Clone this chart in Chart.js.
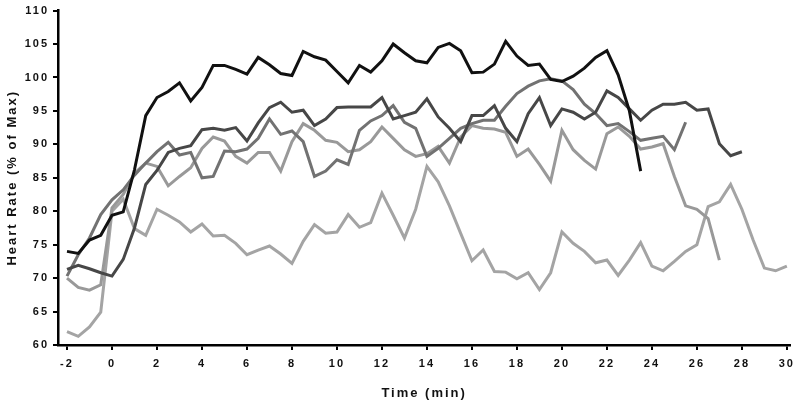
<!DOCTYPE html>
<html>
<head>
<meta charset="utf-8">
<script src="https://cdn.jsdelivr.net/npm/chart.js@4.4.1/dist/chart.umd.min.js"></script>
<style>
  html, body { margin: 0; padding: 0; background: #fff; }
  #wrap { width: 800px; height: 407px; }
</style>
</head>
<body>
<div id="wrap"><canvas id="hrChart"></canvas></div>
<script>
// time points (min), one every 30 s
const minutes = [-2, -1.5, -1, -0.5, 0, 0.5, 1, 1.5, 2, 2.5, 3, 3.5, 4, 4.5, 5, 5.5, 6, 6.5, 7, 7.5,
  8, 8.5, 9, 9.5, 10, 10.5, 11, 11.5, 12, 12.5, 13, 13.5, 14, 14.5, 15, 15.5, 16, 16.5, 17, 17.5,
  18, 18.5, 19, 19.5, 20, 20.5, 21, 21.5, 22, 22.5, 23, 23.5, 24, 24.5, 25, 25.5, 26, 26.5, 27, 27.5,
  28, 28.5, 29, 29.5, 30];

const xTicks = [-2, 0, 2, 4, 6, 8, 10, 12, 14, 16, 18, 20, 22, 24, 26, 28, 30];
const yTicks = [60, 65, 70, 75, 80, 85, 90, 95, 100, 105, 110];

// heart rate (% of max) per subject, starting at -2 min
const hr1 = [74, 73.7, 75.7, 76.4, 79.4, 79.9, 86.2, 94.3, 97, 97.9, 99.2, 96.5, 98.5, 101.8, 101.8, 101.2,
  100.5, 103, 101.9, 100.6, 100.3, 103.9, 103.1, 102.6, 100.9, 99.2, 101.8, 100.8, 102.5, 105, 103.7, 102.5,
  102.2, 104.5, 105.1, 104, 100.7, 100.8, 102, 105.4, 103.2, 101.8, 102, 99.7, 99.4, 100.2, 101.4, 103, 104,
  100.4, 95, 86];
const hr2 = [71.3, 71.9, 71.4, 70.8, 70.3, 72.8, 77.5, 84, 86.1, 88.8, 89.4, 89.8, 92.2, 92.4, 92.1, 92.5,
  90.5, 93.2, 95.5, 96.3, 94.8, 95.1, 92.8, 93.8, 95.5, 95.6, 95.6, 95.6, 97, 93.8, 94.3, 94.8, 96.8, 94.1,
  92.4, 90.4, 94.3, 94.3, 95.8, 92.4, 90.4, 94.6, 97, 92.8, 95.3, 94.8, 93.8, 94.8, 98, 97, 95.3, 93.6, 95.1,
  96, 96, 96.3, 95.1, 95.3, 90.1, 88.3, 88.9];
const hr3 = [70.3, 73.5, 76, 79.5, 81.7, 83.2, 85.4, 87.2, 88.9, 90.3, 88.4, 88.8, 85, 85.2, 89, 88.9, 89.3,
  90.9, 93.8, 91.5, 92, 90.4, 85.2, 86, 87.7, 87, 92.1, 93.5, 94.3, 95.8, 93.3, 92.4, 88.2, 89.4, 90.9, 92.4,
  93.1, 93.6, 93.6, 95.7, 97.6, 98.7, 99.5, 99.8, 99.5, 98.2, 96, 94.6, 92.8, 93.1, 91.9, 90.6, 90.9, 91.2,
  89.2, 93.3];
const hr4 = [70, 68.6, 68.2, 69, 80.5, 82.5, 85.7, 87.2, 86.7, 83.8, 85.2, 86.5, 89.4, 91.1, 90.5, 88.2, 87.2,
  88.8, 88.8, 86, 90.4, 93.1, 92.1, 90.6, 90.3, 88.9, 89.2, 90.4, 92.6, 90.9, 89.2, 88.2, 88.6, 89.7, 87.2,
  91.1, 92.8, 92.4, 92.3, 91.8, 88.2, 89.3, 87, 84.5, 92.1, 89.2, 87.6, 86.3, 91.6, 92.6, 91.2, 89.3, 89.6,
  90.1, 85.2, 80.8, 80.3, 78.9, 72.7];
const hr5 = [62, 61.3, 62.7, 64.9, 80, 81.8, 77.4, 76.4, 80.3, 79.4, 78.4, 76.9, 78.1, 76.3, 76.4, 75.2, 73.5,
  74.2, 74.8, 73.6, 72.2, 75.5, 78, 76.7, 76.9, 79.5, 77.6, 78.3, 82.7, 79.4, 76, 80.3, 86.7, 84.4, 80.8, 76.7,
  72.6, 74.2, 71, 70.9, 69.9, 70.8, 68.3, 70.8, 76.9, 75.2, 74, 72.3, 72.7, 70.4, 72.7, 75.3, 71.8, 71.1, 72.5,
  74, 75, 80.7, 81.4, 84, 80.3, 75.7, 71.5, 71.1, 71.8];

function pts(values) {
  return values.map((v, i) => ({ x: minutes[i], y: v }));
}

function line(values, color) {
  return {
    data: pts(values),
    borderColor: color,
    borderWidth: 3,
    pointRadius: 0,
    tension: 0,
    fill: false
  };
}

// spaced out lettering like the original figure
const spacing = {
  id: 'spacing',
  beforeDraw(chart) {
    chart.ctx.letterSpacing = '2px';
  }
};

const ctx = document.getElementById('hrChart');

new Chart(ctx, {
  type: 'line',
  data: {
    datasets: [
      line(hr1, '#111111'),
      line(hr2, '#474747'),
      line(hr3, '#727272'),
      line(hr4, '#999999'),
      line(hr5, '#a4a4a4')
    ]
  },
  options: {
    responsive: true,
    maintainAspectRatio: false,
    animation: false,
    layout: { padding: { top: 5, right: 3, left: 0, bottom: 0 } },
    plugins: {
      legend: { display: false },
      tooltip: { enabled: false }
    },
    scales: {
      x: {
        type: 'linear',
        min: -2.4,
        max: 30.15,
        afterBuildTicks: (axis) => { axis.ticks = xTicks.map(v => ({ value: v })); },
        afterFit: (axis) => { axis.height = 62; },
        border: { color: '#000', width: 2.5 },
        grid: { drawOnChartArea: false, drawTicks: true, tickLength: 5, color: '#000', lineWidth: 2 },
        ticks: {
          color: '#111',
          padding: 7,
          maxRotation: 0,
          font: { family: 'Liberation Sans', size: 11, weight: 'bold' }
        },
        title: {
          display: true,
          text: 'Time (min)',
          color: '#111',
          padding: { top: 0, bottom: 6 },
          font: { family: 'Liberation Sans', size: 13, weight: 'bold' }
        }
      },
      y: {
        min: 60,
        max: 110,
        afterBuildTicks: (axis) => { axis.ticks = yTicks.map(v => ({ value: v })); },
        afterFit: (axis) => { axis.width = 58; },
        border: { color: '#000', width: 2.5 },
        grid: { drawOnChartArea: false, drawTicks: true, tickLength: 5, color: '#000', lineWidth: 2 },
        ticks: {
          color: '#111',
          padding: 4,
          font: { family: 'Liberation Sans', size: 11, weight: 'bold' }
        },
        title: {
          display: true,
          text: 'Heart Rate (% of Max)',
          color: '#111',
          padding: { top: 5, bottom: 0 },
          font: { family: 'Liberation Sans', size: 13, weight: 'bold' }
        }
      }
    }
  },
  plugins: [spacing]
});
</script>
</body>
</html>
